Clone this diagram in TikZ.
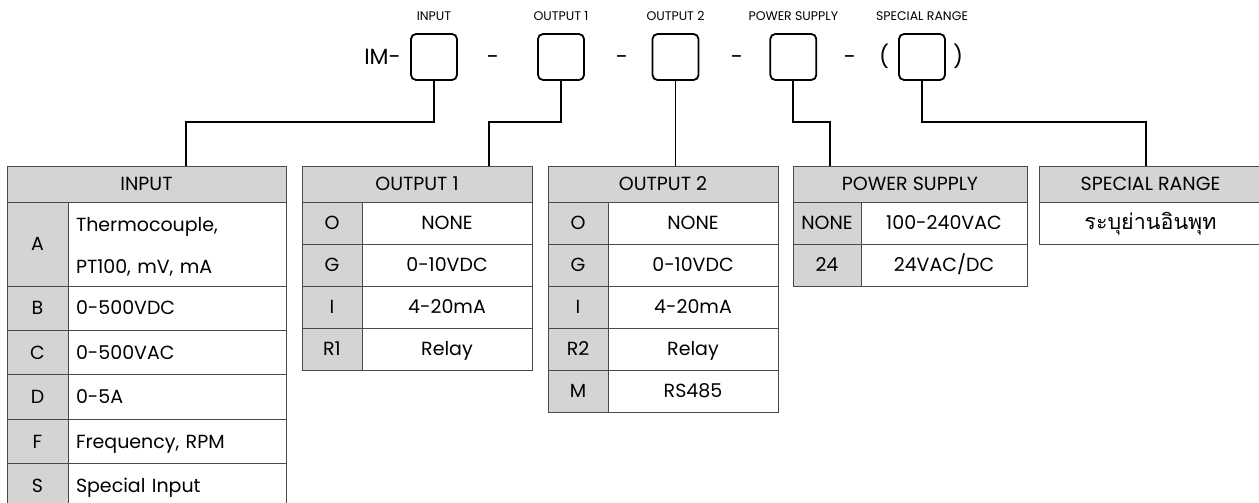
\documentclass[tikz,border=0pt]{standalone}
\usepackage{fontspec}
\setmainfont{Poppins}
\newfontfamily\thaifont[Script=Thai]{Loma}
\usepackage{tikz}
\usetikzlibrary{positioning}
\definecolor{tab-fill}{HTML}{D4D4D4}
\definecolor{tab-rule}{HTML}{4A4A4A}
\tikzset{
  codebox/.style={draw,line width=1.8pt,rounded corners=5pt,minimum width=46,minimum height=46,inner sep=0pt},
  codelbl/.style={font=\fontsize{12.5}{14}\selectfont,inner sep=0pt},
  codesep/.style={font=\fontsize{22}{24}\selectfont,inner sep=0pt,text height=16pt,text depth=0pt},
  cellbase/.style={draw=tab-rule,line width=0.9pt,anchor=north west,outer sep=0pt,inner sep=0pt,font=\fontsize{19}{22}\selectfont},
  cell/.style={cellbase,text height=13.3pt,text depth=0pt},
  hdcell/.style={cell,fill=tab-fill,minimum height=36},
  keycell/.style={cell,fill=tab-fill},
  valcell/.style={cell,fill=white},
  wire/.style={line width=1.8pt},
}

\begin{document}
\begin{tikzpicture}[x=1pt,y=-1pt]
  \useasboundingbox (0,0) rectangle (1259,503);
  % order code
  \node[codesep,anchor=east] (im) at (401,57) {IM-};
  \node[codebox] (bin) at (434,57) {};
  \node[codebox] (bo1) at (561,57) {};
  \node[codebox] (bo2) at (675.5,57) {};
  \node[codebox] (bps) at (793.3,57) {};
  \node[codebox] (bsr) at (922,57) {};
  \node[codesep] (d1) at (493,57) {-};
  \node[codesep] (d2) at (622,57) {-};
  \node[codesep] (d3) at (737,57) {-};
  \node[codesep] (d4) at (850,57) {-};
  \node[codesep] (pl) at (884,57) {(};
  \node[codesep] (pr) at (958,57) {)};
  \node[codelbl,above=12pt of bin] (lbl-in) {INPUT};
  \node[codelbl,above=12pt of bo1] (lbl-o1) {OUTPUT 1};
  \node[codelbl,above=12pt of bo2] (lbl-o2) {OUTPUT 2};
  \node[codelbl,above=12pt of bps] (lbl-ps) {POWER SUPPLY};
  \node[codelbl,above=12pt of bsr] (lbl-sr) {SPECIAL RANGE};

  % INPUT
  \node[hdcell,minimum width=279] (hin) at (7,166) {INPUT};
  \node[keycell,minimum width=61,minimum height=84] (kin-a) at (7,202) {A};
  \node[cellbase,fill=white,minimum width=218,minimum height=84,text width=202,inner xsep=8pt,align=left,
        text height=20pt,font=\fontsize{19}{42}\selectfont] (vin-a) at (68,202) {Thermocouple,\\PT100, mV, mA};
  \foreach \k/\v [count=\i from 0] in {B/0-500VDC,C/0-500VAC,D/0-5A,F/{Frequency, RPM},S/Special Input}{
    \node[keycell,minimum width=61,minimum height=44.4] (kin-\k) at (7,286+44.4*\i) {\k};
    \node[valcell,minimum width=218,minimum height=44.4,text width=202,inner xsep=8pt,align=left] (vin-\k) at (68,286+44.4*\i) {\v};
  }

  % OUTPUT 1
  \node[hdcell,minimum width=230] (ho1) at (302,166) {OUTPUT 1};
  \foreach \k/\v [count=\i from 0] in {O/NONE,G/0-10VDC,I/4-20mA,R1/Relay}{
    \node[keycell,minimum width=60,minimum height=42] (ko1-\k) at (302,202+42*\i) {\k};
    \node[valcell,minimum width=170,minimum height=42] (vo1-\k) at (362,202+42*\i) {\v};
  }

  % OUTPUT 2
  \node[hdcell,minimum width=230] (ho2) at (548,166) {OUTPUT 2};
  \foreach \k/\v [count=\i from 0] in {O/NONE,G/0-10VDC,I/4-20mA,R2/Relay,M/RS485}{
    \node[keycell,minimum width=60,minimum height=42] (ko2-\k) at (548,202+42*\i) {\k};
    \node[valcell,minimum width=170,minimum height=42] (vo2-\k) at (608,202+42*\i) {\v};
  }

  % POWER SUPPLY
  \node[hdcell,minimum width=234] (hps) at (793,166) {POWER SUPPLY};
  \foreach \k/\v [count=\i from 0] in {NONE/100-240VAC,24/24VAC\slash DC}{
    \node[keycell,minimum width=68,minimum height=42] (kps-\i) at (793,202+42*\i) {\k};
    \node[valcell,minimum width=166,minimum height=42] (vps-\i) at (861,202+42*\i) {\v};
  }

  % SPECIAL RANGE
  \node[hdcell,minimum width=223] (hsr) at (1039,166) {SPECIAL RANGE};
  \node[valcell,minimum width=223,minimum height=42,font=\fontsize{21.5}{24}\selectfont] (vsr) at (1039,202) {\thaifont ระบุย่านอินพุท};

  % wires
  \coordinate (rail) at (0,122);
  \coordinate (lin) at (186,166);
  \coordinate (lo1) at (489,166);
  \coordinate (lps) at (830,166);
  \coordinate (lsr) at (1146,166);
  \draw[wire] (bin.south) |- (rail -| lin) -- (lin);
  \draw[wire] (bo1.south) |- (rail -| lo1) -- (lo1);
  \draw[wire] (bo2.south) -- (bo2.south |- ho2.north);
  \draw[wire] (bps.south) |- (rail -| lps) -- (lps);
  \draw[wire] (bsr.south) |- (rail -| lsr) -- (lsr);
\end{tikzpicture}
\end{document}
